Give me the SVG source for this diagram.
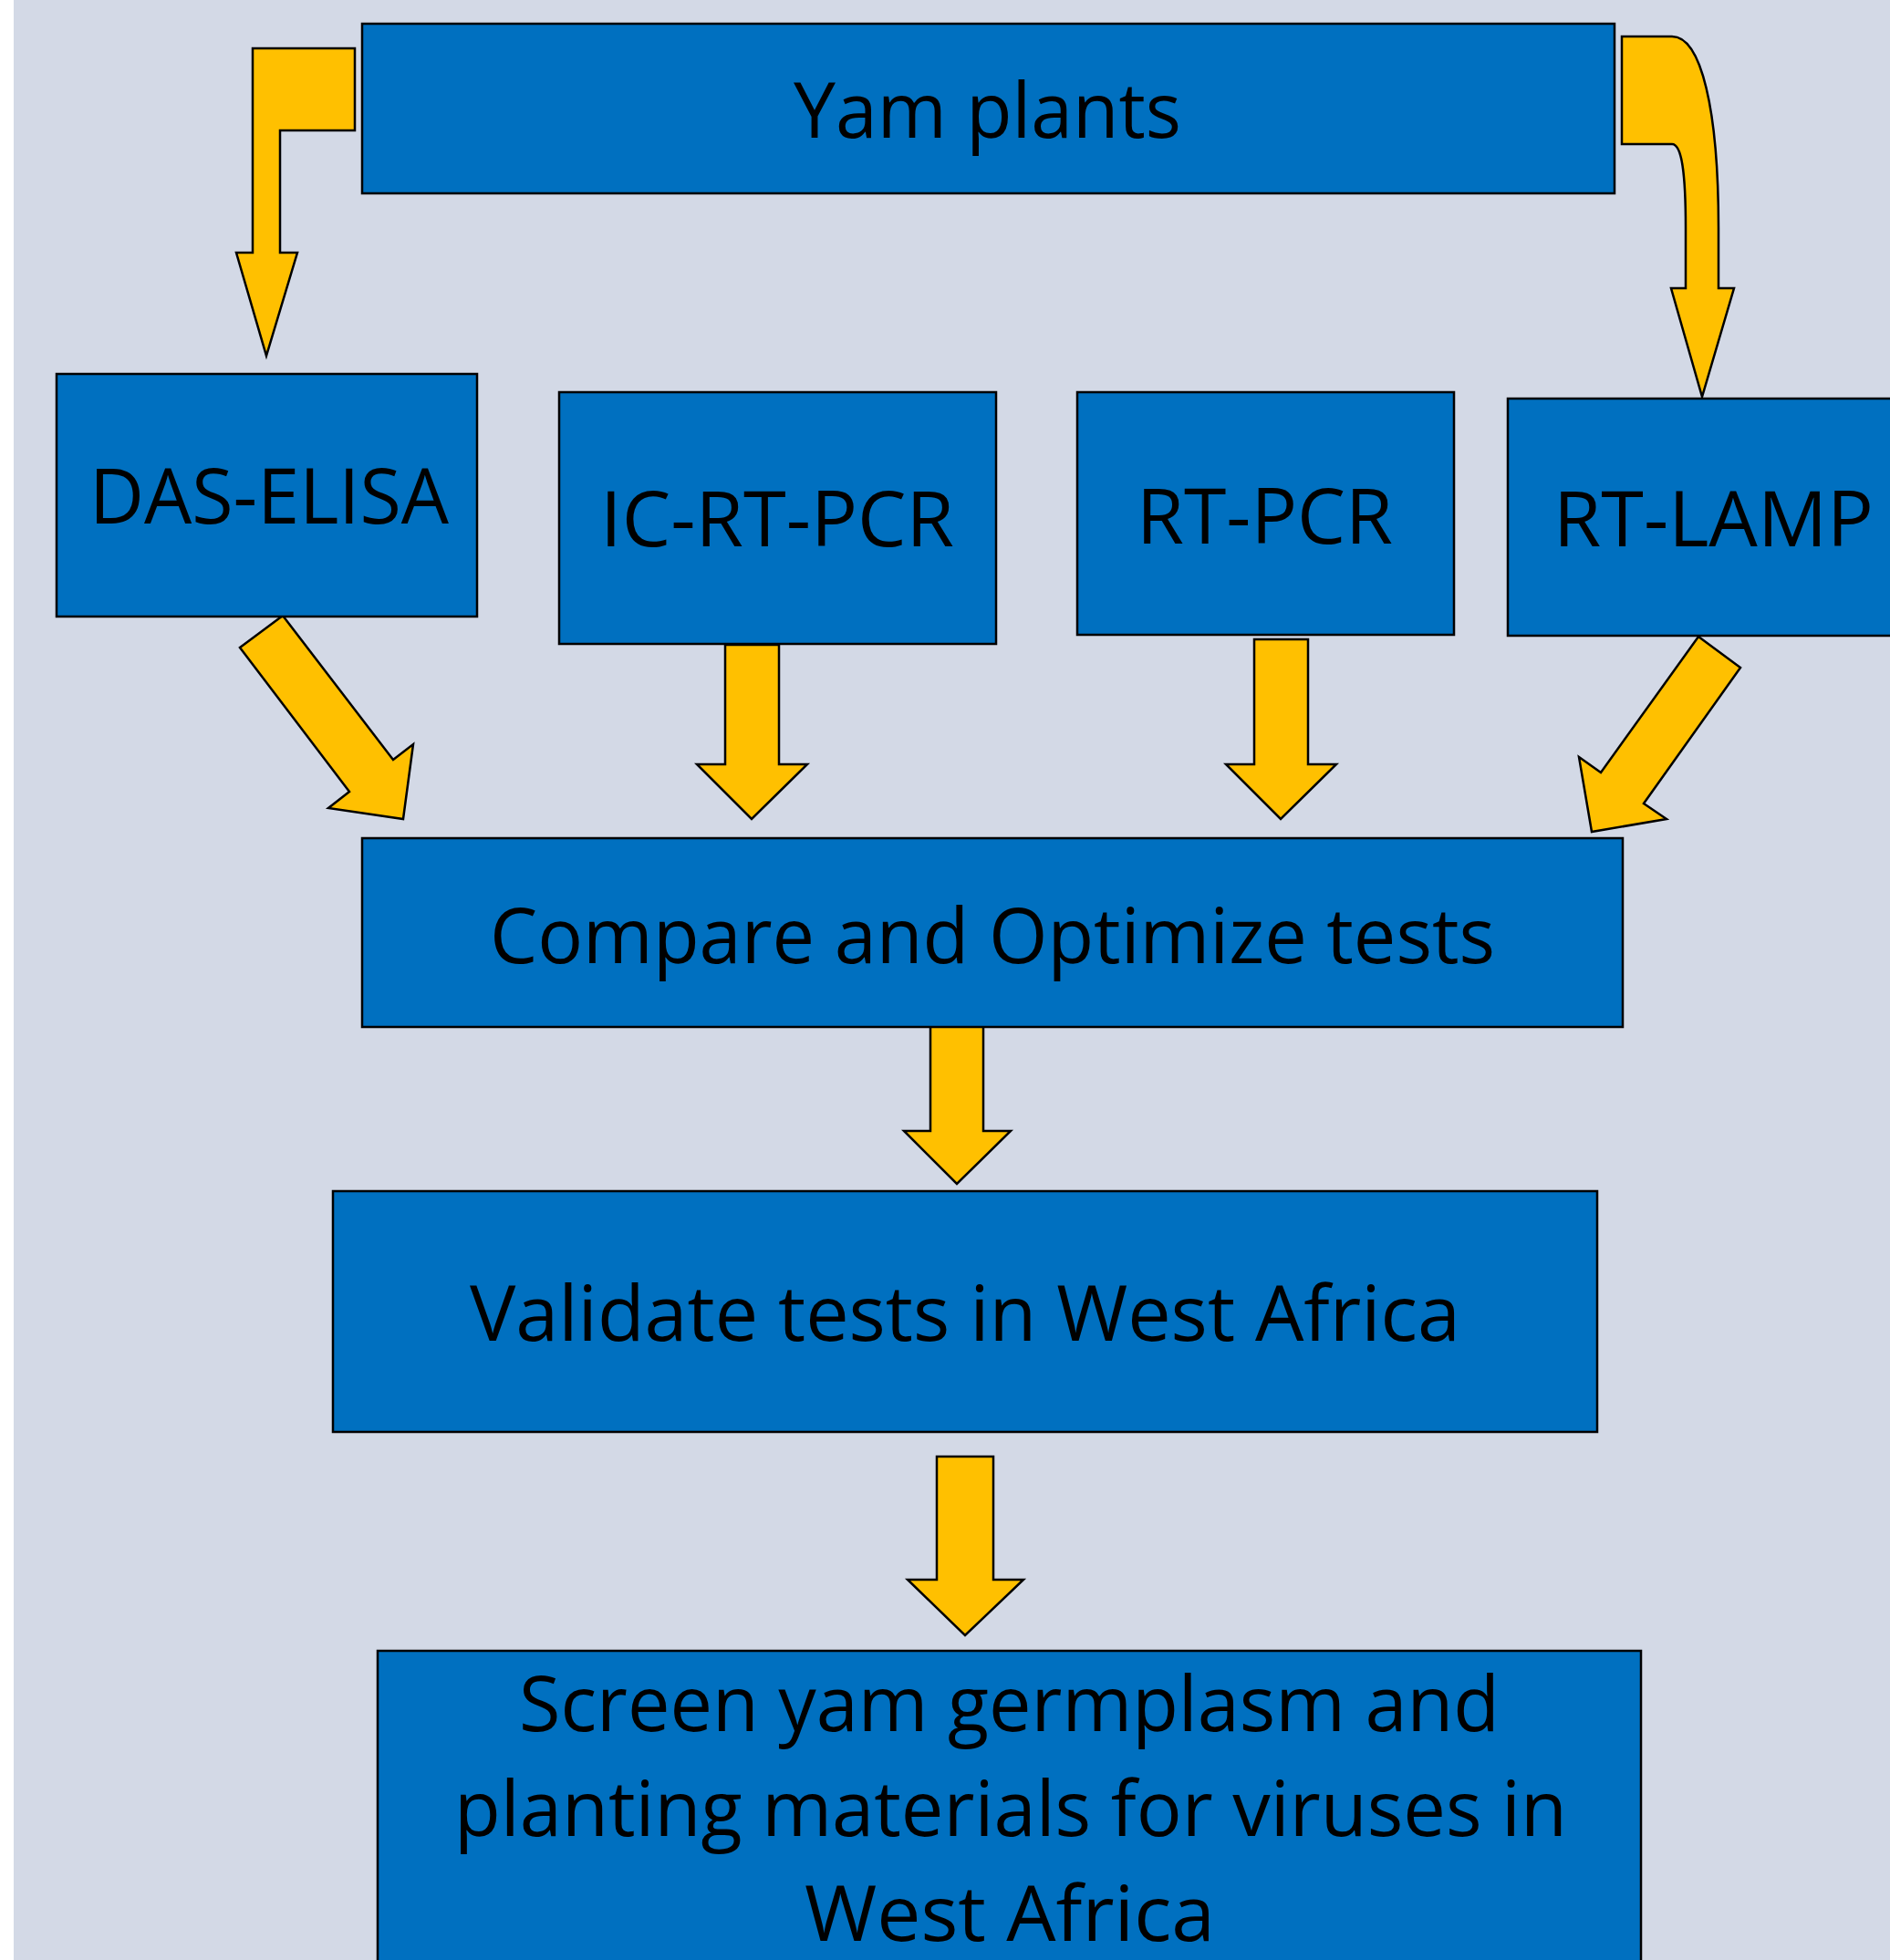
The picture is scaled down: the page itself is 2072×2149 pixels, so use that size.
<svg xmlns="http://www.w3.org/2000/svg" width="2072" height="2149" viewBox="0 0 2072 2149">
<style>
.box{fill:#0070C0;stroke:#000;stroke-width:2.5}
.arr{fill:#FFC000;stroke:#000;stroke-width:2.5;stroke-linejoin:miter}
.lbl{font-family:"Open Sans","Liberation Sans",sans-serif;font-size:85px;fill:#000}
</style>
<rect x="0" y="0" width="2072" height="2149" fill="#FFFFFF"/>
<rect x="15" y="0" width="2057" height="2149" fill="#D3D9E6"/>
<g id="connectors">
<path class="arr" d="M389,53 L277,53 L277,277 L259,277 L292,390 L326,277 L307,277 L307,143 L389,143 Z"/>
<path class="arr" d="M1778,40 L1833,40 C1865,40 1884,120 1884,250 L1884,316 L1901,316 L1866,435 L1832,316 L1848,316 L1848,250 C1848,185 1843,158 1833,158 L1778,158 Z"/>
<path class="arr" d="M310,675 L263,710 L383,868 L360,886 L442,898 L453,816 L431,833 Z"/>
<path class="arr" d="M795,707 L854,707 L854,838 L885,838 L824,898 L764,838 L795,838 Z"/>
<path class="arr" d="M1375,701 L1434,701 L1434,838 L1465,838 L1404,898 L1344,838 L1375,838 Z"/>
<path class="arr" d="M1862,698 L1908,732 L1802,881 L1827,898 L1745,912 L1731,830 L1755,847 Z"/>
<path class="arr" d="M1020,1124 L1078,1124 L1078,1240 L1108,1240 L1049,1298 L991,1240 L1020,1240 Z"/>
<path class="arr" d="M1027,1597 L1089,1597 L1089,1732 L1122,1732 L1058,1793 L995,1732 L1027,1732 Z"/>
</g>
<g id="node-yam">
<rect class="box" x="397" y="26" width="1373" height="186"/>
<text class="lbl" x="870" y="151" textLength="425" lengthAdjust="spacingAndGlyphs">Yam plants</text>
</g>
<g id="node-das">
<rect class="box" x="62" y="410" width="461" height="266"/>
<text class="lbl" x="98" y="574" textLength="394" lengthAdjust="spacingAndGlyphs">DAS-ELISA</text>
</g>
<g id="node-icrtpcr">
<rect class="box" x="613" y="430" width="479" height="276"/>
<text class="lbl" x="658" y="599" textLength="388" lengthAdjust="spacingAndGlyphs">IC-RT-PCR</text>
</g>
<g id="node-rtpcr">
<rect class="box" x="1181" y="430" width="413" height="266"/>
<text class="lbl" x="1246" y="596" textLength="281" lengthAdjust="spacingAndGlyphs">RT-PCR</text>
</g>
<g id="node-rtlamp">
<rect class="box" x="1653" y="437" width="440" height="260"/>
<text class="lbl" x="1703" y="599" textLength="351" lengthAdjust="spacingAndGlyphs">RT-LAMP</text>
</g>
<g id="node-compare">
<rect class="box" x="397" y="919" width="1382" height="207"/>
<text class="lbl" x="537" y="1056" textLength="1102" lengthAdjust="spacingAndGlyphs">Compare and Optimize tests</text>
</g>
<g id="node-validate">
<rect class="box" x="365" y="1306" width="1386" height="264"/>
<text class="lbl" x="515" y="1470" textLength="1086" lengthAdjust="spacingAndGlyphs">Validate tests in West Africa</text>
</g>
<g id="node-screen">
<rect class="box" x="414" y="1810" width="1385" height="360"/>
<text class="lbl" x="569" y="1898" textLength="1075" lengthAdjust="spacingAndGlyphs">Screen yam germplasm and</text>
<text class="lbl" x="498" y="2013" textLength="1220" lengthAdjust="spacingAndGlyphs">planting materials for viruses in</text>
<text class="lbl" x="882" y="2128" textLength="450" lengthAdjust="spacingAndGlyphs">West Africa</text>
</g>
</svg>
